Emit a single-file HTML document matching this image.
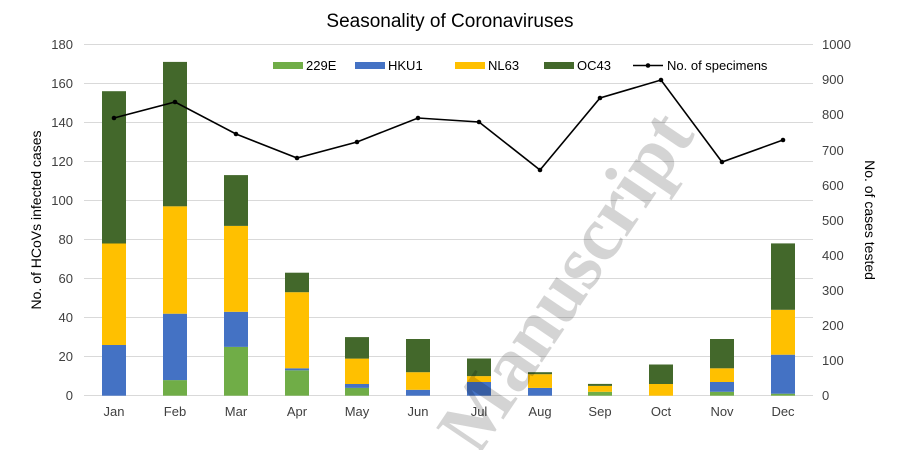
<!DOCTYPE html>
<html><head><style>html,body{margin:0;padding:0;background:#fff;overflow:hidden;width:900px;height:450px}svg{display:block}</style></head><body>
<svg width="900" height="450" xmlns="http://www.w3.org/2000/svg" font-family="Liberation Sans, sans-serif">
<defs><clipPath id="cp"><rect x="0" y="0" width="900" height="450"/></clipPath></defs>
<rect width="900" height="450" fill="#fff"/>
<text x="450" y="27" font-size="19" text-anchor="middle" fill="#000">Seasonality of Coronaviruses</text>
<g stroke="#d9d9d9" stroke-width="1">
<line x1="84" x2="813" y1="44.5" y2="44.5"/><line x1="84" x2="813" y1="83.5" y2="83.5"/><line x1="84" x2="813" y1="122.5" y2="122.5"/><line x1="84" x2="813" y1="161.5" y2="161.5"/><line x1="84" x2="813" y1="200.5" y2="200.5"/><line x1="84" x2="813" y1="239.5" y2="239.5"/><line x1="84" x2="813" y1="278.5" y2="278.5"/><line x1="84" x2="813" y1="317.5" y2="317.5"/><line x1="84" x2="813" y1="356.5" y2="356.5"/><line x1="84" x2="813" y1="395.5" y2="395.5"/>
</g>
<g font-size="13" fill="#404040" text-anchor="end">
<text x="73" y="49">180</text><text x="73" y="88">160</text><text x="73" y="127">140</text><text x="73" y="166">120</text><text x="73" y="205">100</text><text x="73" y="244">80</text><text x="73" y="283">60</text><text x="73" y="322">40</text><text x="73" y="361">20</text><text x="73" y="400">0</text>
</g>
<g font-size="13" fill="#404040">
<text x="822" y="49">1000</text><text x="822" y="84">900</text><text x="822" y="119">800</text><text x="822" y="155">700</text><text x="822" y="190">600</text><text x="822" y="225">500</text><text x="822" y="260">400</text><text x="822" y="295">300</text><text x="822" y="330">200</text><text x="822" y="365">100</text><text x="822" y="400">0</text>
</g>
<text transform="translate(41,220) rotate(-90)" font-size="14" text-anchor="middle" fill="#000">No. of HCoVs infected cases</text>
<text transform="translate(865,220) rotate(90)" font-size="14" text-anchor="middle" fill="#000">No. of cases tested</text>
<g>
<rect x="102" y="345.0" width="24" height="50.7" fill="#4472c4"/><rect x="102" y="243.5" width="24" height="101.5" fill="#ffc000"/><rect x="102" y="91.2" width="24" height="152.3" fill="#43682b"/>
<rect x="163" y="380.1" width="24" height="15.6" fill="#70ad47"/><rect x="163" y="313.7" width="24" height="66.4" fill="#4472c4"/><rect x="163" y="206.3" width="24" height="107.4" fill="#ffc000"/><rect x="163" y="61.9" width="24" height="144.4" fill="#43682b"/>
<rect x="224" y="346.9" width="24" height="48.8" fill="#70ad47"/><rect x="224" y="311.8" width="24" height="35.1" fill="#4472c4"/><rect x="224" y="225.9" width="24" height="85.9" fill="#ffc000"/><rect x="224" y="175.1" width="24" height="50.8" fill="#43682b"/>
<rect x="285" y="370.3" width="24" height="25.4" fill="#70ad47"/><rect x="285" y="368.3" width="24" height="2" fill="#4472c4"/><rect x="285" y="292.2" width="24" height="76.1" fill="#ffc000"/><rect x="285" y="272.7" width="24" height="19.5" fill="#43682b"/>
<rect x="345" y="387.9" width="24" height="7.8" fill="#70ad47"/><rect x="345" y="384.0" width="24" height="3.9" fill="#4472c4"/><rect x="345" y="358.6" width="24" height="25.4" fill="#ffc000"/><rect x="345" y="337.1" width="24" height="21.5" fill="#43682b"/>
<rect x="406" y="389.8" width="24" height="5.9" fill="#4472c4"/><rect x="406" y="372.2" width="24" height="17.6" fill="#ffc000"/><rect x="406" y="339.0" width="24" height="33.2" fill="#43682b"/>
<rect x="467" y="382.0" width="24" height="13.7" fill="#4472c4"/><rect x="467" y="376.1" width="24" height="5.9" fill="#ffc000"/><rect x="467" y="358.5" width="24" height="17.6" fill="#43682b"/>
<rect x="528" y="387.9" width="24" height="7.8" fill="#4472c4"/><rect x="528" y="374.2" width="24" height="13.7" fill="#ffc000"/><rect x="528" y="372.2" width="24" height="2" fill="#43682b"/>
<rect x="588" y="391.8" width="24" height="3.9" fill="#70ad47"/><rect x="588" y="385.9" width="24" height="5.9" fill="#ffc000"/><rect x="588" y="383.9" width="24" height="2" fill="#43682b"/>
<rect x="649" y="384.0" width="24" height="11.7" fill="#ffc000"/><rect x="649" y="364.5" width="24" height="19.5" fill="#43682b"/>
<rect x="710" y="391.8" width="24" height="3.9" fill="#70ad47"/><rect x="710" y="382.0" width="24" height="9.8" fill="#4472c4"/><rect x="710" y="368.3" width="24" height="13.7" fill="#ffc000"/><rect x="710" y="339.0" width="24" height="29.3" fill="#43682b"/>
<rect x="771" y="393.7" width="24" height="2" fill="#70ad47"/><rect x="771" y="354.7" width="24" height="39" fill="#4472c4"/><rect x="771" y="309.8" width="24" height="44.9" fill="#ffc000"/><rect x="771" y="243.4" width="24" height="66.4" fill="#43682b"/>
</g>
<g font-size="13" fill="#404040" text-anchor="middle">
<text x="114" y="416">Jan</text><text x="175" y="416">Feb</text><text x="236" y="416">Mar</text><text x="297" y="416">Apr</text><text x="357" y="416">May</text><text x="418" y="416">Jun</text><text x="479" y="416">Jul</text><text x="540" y="416">Aug</text><text x="600" y="416">Sep</text><text x="661" y="416">Oct</text><text x="722" y="416">Nov</text><text x="783" y="416">Dec</text>
</g>
<polyline fill="none" stroke="#000" stroke-width="1.6" points="114,118 175,102 236,134 297,158 357,142 418,118 479,122 540,170 600,98 661,80 722,162 783,140"/>
<g fill="#000"><circle cx="114" cy="118" r="2.3"/><circle cx="175" cy="102" r="2.3"/><circle cx="236" cy="134" r="2.3"/><circle cx="297" cy="158" r="2.3"/><circle cx="357" cy="142" r="2.3"/><circle cx="418" cy="118" r="2.3"/><circle cx="479" cy="122" r="2.3"/><circle cx="540" cy="170" r="2.3"/><circle cx="600" cy="98" r="2.3"/><circle cx="661" cy="80" r="2.3"/><circle cx="722" cy="162" r="2.3"/><circle cx="783" cy="140" r="2.3"/></g>
<g font-size="13" fill="#000">
<rect x="273" y="62" width="30" height="7" fill="#70ad47"/><text x="306" y="70">229E</text>
<rect x="355" y="62" width="30" height="7" fill="#4472c4"/><text x="388" y="70">HKU1</text>
<rect x="455" y="62" width="30" height="7" fill="#ffc000"/><text x="488" y="70">NL63</text>
<rect x="544" y="62" width="30" height="7" fill="#43682b"/><text x="577" y="70">OC43</text>
<line x1="633" x2="663" y1="65.5" y2="65.5" stroke="#000" stroke-width="1.6"/><circle cx="648" cy="65.5" r="2.3"/><text x="667" y="70">No. of specimens</text>
</g>
<g clip-path="url(#cp)">
<text transform="translate(572,286) rotate(-56)" font-family="Liberation Serif, serif" font-weight="bold" font-size="78" text-anchor="middle" dominant-baseline="middle" fill="#000" fill-opacity="0.17">Manuscript</text>
</g>
</svg>
</body></html>
